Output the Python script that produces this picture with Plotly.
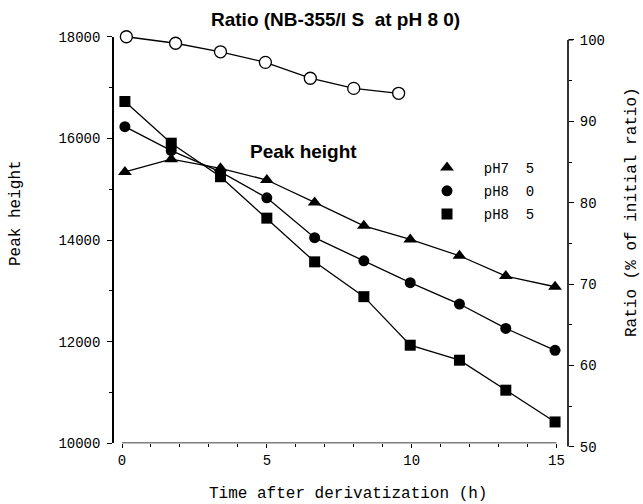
import plotly.graph_objects as go

# ---- data ----
t_peak = [0.1, 1.7, 3.4, 5.0, 6.65, 8.35, 9.95, 11.65, 13.25, 14.95]
ph75 = [15340, 15590, 15410, 15180, 14740, 14280, 14010, 13690, 13290, 13080]
ph80 = [16230, 15760, 15340, 14830, 14045, 13590, 13160, 12740, 12260, 11830]
ph85 = [16725, 15905, 15245, 14430, 13570, 12885, 11930, 11635, 11045, 10420]

t_ratio = [0.15, 1.85, 3.4, 4.95, 6.5, 8.0, 9.55]
ratio = [100.4, 99.6, 98.55, 97.25, 95.3, 94.05, 93.45]

series_names = ["pH7\u00a0\u00a05", "pH8\u00a0\u00a00", "pH8\u00a0\u00a05"]
x_ticks = [0, 5, 10, 15]
y_ticks = [10000, 12000, 14000, 16000, 18000]
y2_ticks = [50, 60, 70, 80, 90, 100]

# ---- geometry (pixels) ----
W, H = 643, 504
PL, PR, PT, PB = 114, 568, 30, 447


def xp(px):
    return (px - PL) / (PR - PL)


def yp(py):
    return (PB - py) / (PB - PT)


MONO = "Liberation Mono"
SANS = "Liberation Sans"
BLACK = "black"

fig = go.Figure()

line = dict(color=BLACK, width=1.3)
for vals, sym, size, name in [
    (ph75, "triangle-up", 12, series_names[0]),
    (ph80, "circle", 11, series_names[1]),
    (ph85, "square", 11, series_names[2]),
]:
    fig.add_trace(go.Scatter(
        x=t_peak, y=vals, mode="lines+markers", line=line,
        marker=dict(symbol=sym, size=size, color=BLACK),
        showlegend=False, cliponaxis=False, xaxis="x", yaxis="y"))
    fig.add_trace(go.Scatter(
        x=[None], y=[None], mode="markers", name="\u00a0\u00a0" + name,
        marker=dict(symbol=sym, size=size, color=BLACK),
        showlegend=True, legendgroup=name, xaxis="x", yaxis="y"))

fig.add_trace(go.Scatter(
    x=t_ratio, y=ratio, mode="lines+markers", line=line,
    marker=dict(symbol="circle", size=12, color="white",
                line=dict(color=BLACK, width=1.3)),
    showlegend=False, cliponaxis=False, xaxis="x", yaxis="y2"))

# axis pixel mapping
x0_px, x15_px = 122, 556.5
pph = (x15_px - x0_px) / 15
x_range = [(PL - x0_px) / pph, 15 + (PR - x15_px) / pph]

y_dom = [yp(443.3), yp(36.7)]
y2_px_unit = (446.7 - 40.0) / 50
y2_top = 101
y2_dom = [yp(446.7), yp(40.0 - (y2_top - 100) * y2_px_unit)]

tickfont = dict(family=MONO, size=14, color=BLACK)

fig.update_layout(
    width=W, height=H,
    margin=dict(l=PL, r=W - PR, t=PT, b=H - PB, pad=0),
    paper_bgcolor="white", plot_bgcolor="rgba(0,0,0,0)",
    xaxis=dict(
        range=x_range, domain=[0, 1], anchor="y",
        showgrid=False, zeroline=False, showline=False,
        tickmode="array", tickvals=x_ticks, ticktext=[str(v) for v in x_ticks],
        ticks="outside", ticklen=4, tickwidth=1.2, tickcolor=BLACK,
        minor=dict(dtick=1, tick0=0, ticks="outside", ticklen=3,
                   tickwidth=1, tickcolor=BLACK, showgrid=False),
        tickfont=tickfont,
    ),
    yaxis=dict(
        range=[10000, 18000], domain=y_dom, anchor="x",
        showgrid=False, zeroline=False, showline=True,
        linecolor=BLACK, linewidth=1.6,
        tickmode="array", tickvals=y_ticks, ticktext=[str(v) for v in y_ticks],
        ticks="outside", ticklen=5, tickwidth=1.2, tickcolor=BLACK,
        ticklabelstandoff=4,
        minor=dict(dtick=1000, tick0=0, ticks="outside", ticklen=3,
                   tickwidth=1, tickcolor=BLACK, showgrid=False),
        tickfont=tickfont,
    ),
    yaxis2=dict(
        range=[50, y2_top], domain=y2_dom, anchor="x", side="right",
        showgrid=False, zeroline=False, showline=False,
        tickmode="array", tickvals=y2_ticks, ticktext=[str(v) for v in y2_ticks],
        ticks="outside", ticklen=5, tickwidth=1.2, tickcolor=BLACK,
        ticklabelstandoff=3,
        minor=dict(tickvals=[55, 65, 75, 85, 95], ticks="outside", ticklen=3,
                   tickwidth=1, tickcolor=BLACK, showgrid=False),
        tickfont=tickfont,
    ),
    legend=dict(
        x=xp(427), y=yp(152), xanchor="left", yanchor="top",
        font=dict(family=MONO, size=14, color=BLACK),
        bgcolor="rgba(0,0,0,0)", borderwidth=0,
        tracegroupgap=2, itemwidth=30,
    ),
    shapes=[
        dict(type="line", xref="x", yref="y", x0=0, x1=15, y0=10000, y1=10000,
             line=dict(color=BLACK, width=1.6)),
        dict(type="line", xref="paper", yref="y2", x0=1, x1=1, y0=50, y1=100,
             line=dict(color=BLACK, width=1.6)),
        dict(type="line", xref="paper", yref="y2", x0=1, x1=xp(PR + 5), y0=100, y1=100,
             line=dict(color=BLACK, width=1.2)),
    ],
)

ann = [
    dict(text="<b>Ratio (NB-355/I S\u00a0\u00a0at pH 8 0)</b>", x=xp(335), y=yp(19.5),
         font=dict(family=SANS, size=19, color=BLACK)),
    dict(text="<b>Peak height</b>", x=xp(303), y=yp(151),
         font=dict(family=SANS, size=19, color=BLACK)),
    dict(text="Time after derivatization (h)", x=xp(347.5), y=yp(494),
         font=dict(family=MONO, size=16, color=BLACK)),
    dict(text="Peak height", x=xp(16), y=yp(213), textangle=-90,
         font=dict(family=MONO, size=16, color=BLACK)),
    dict(text="Ratio (% of initial ratio)", x=xp(632), y=yp(212), textangle=-90,
         font=dict(family=MONO, size=16, color=BLACK)),
]
for a in ann:
    fig.add_annotation(xref="paper", yref="paper", showarrow=False,
                       xanchor="center", yanchor="middle", **a)

fig.write_html("out.html")
